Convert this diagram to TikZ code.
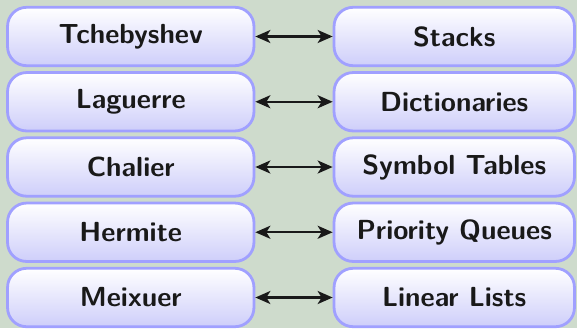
\documentclass[tikz,border=0pt]{standalone}
\usetikzlibrary{arrows.meta,shadings}
\definecolor{bgcol}{RGB}{206,219,204}
\definecolor{edgecol}{RGB}{160,160,255}
\definecolor{fillbot}{RGB}{206,206,250}
\begin{document}
\begin{tikzpicture}[x=0.5pt,y=-0.5pt,
  itembox/.style={draw=edgecol, line width=1.4pt, rounded corners=9.5pt,
    top color=white, bottom color=fillbot,
    minimum height=29.2pt, inner sep=0pt,
    font=\fontsize{13.8}{16}\selectfont\sffamily\bfseries, text=black!90},
  leftbox/.style={itembox, minimum width=123.2pt},
  rightbox/.style={itembox, minimum width=120.2pt},
  link/.style={{Stealth[length=7.5pt,width=6.5pt,inset=2pt]}-{Stealth[length=7.5pt,width=6.5pt,inset=2pt]}, line width=1.2pt, black!90}]
  \fill[bgcol] (0,0) rectangle (577,328);
  \useasboundingbox (0,0) rectangle (577,328);
  \foreach \i/\l/\r [count=\n] in {0/Tchebyshev/Stacks,1/Laguerre/Dictionaries,2/Chalier/Symbol Tables,3/Hermite/Priority Queues,4/Meixuer/Linear Lists}{
    \node[leftbox] (L\n) at (130.75,{36.5+65.25*\i}) {\l};
    \node[rightbox] (R\n) at (454.25,{36.5+65.25*\i}) {\r};
    \draw[link] (L\n) -- (R\n);
  }
\end{tikzpicture}
\end{document}
